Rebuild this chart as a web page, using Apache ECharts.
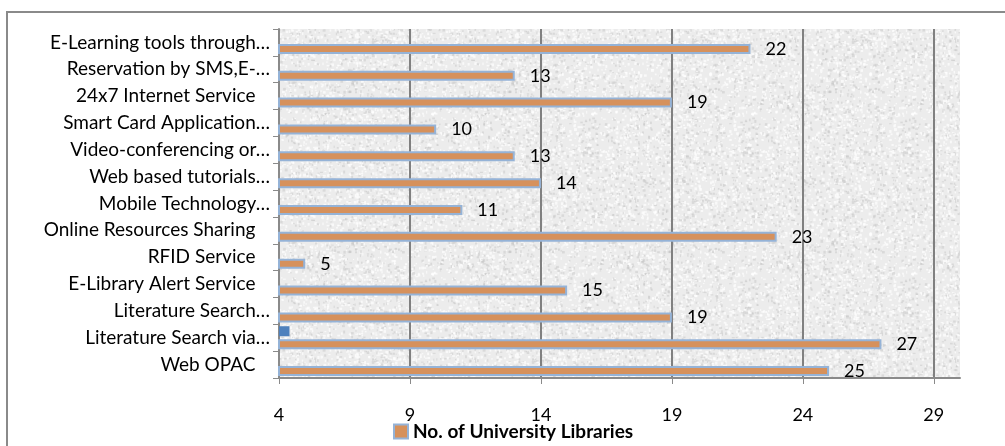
<!DOCTYPE html>
<html>
<head>
<meta charset="utf-8">
<script src="https://cdn.jsdelivr.net/npm/echarts@6/dist/echarts.min.js"></script>
<style>
  html, body { margin: 0; padding: 0; background: #fff; }
  #chart { width: 1005px; height: 446px; }
</style>
</head>
<body>
<div id="chart"></div>
<script>
// categories, top to bottom as in the picture
const categories = [
  'E-Learning tools through…',
  'Reservation by SMS,E-…',
  '24x7 Internet Service',
  'Smart Card Application…',
  'Video-conferencing or…',
  'Web based tutorials…',
  'Mobile Technology…',
  'Online Resources Sharing',
  'RFID Service',
  'E-Library Alert Service',
  'Literature Search…',
  'Literature Search via…',
  'Web OPAC'
]
const libraries = [22, 13, 19, 10, 13, 14, 11, 23, 5, 15, 19, 27, 25]
// small second series, only one visible bar
const secondSeries = ['-', '-', '-', '-', '-', '-', '-', '-', '-', '-', '-', 4.4, '-']
const xTicks = { min: 4, max: 30, interval: 5 }

// grey marble-like texture for the plot background
function makeTexture () {
  const c = document.createElement('canvas')
  c.width = 160
  c.height = 160
  const ctx = c.getContext('2d')
  ctx.fillStyle = '#ececec'
  ctx.fillRect(0, 0, 160, 160)
  let seed = 12345
  const rnd = () => {
    seed = (seed * 1103515245 + 12345) % 2147483648
    return seed / 2147483648
  }
  for (let i = 0; i < 2400; i++) {
    const x = rnd() * 160
    const y = rnd() * 160
    const v = rnd()
    ctx.fillStyle = v < 0.6 ? 'rgba(255,255,255,0.7)' : 'rgba(195,195,195,0.45)'
    ctx.fillRect(x, y, 1 + rnd() * 2, 1 + rnd() * 2)
  }
  return c
}

const chart = echarts.init(document.getElementById('chart'))
chart.setOption({
  animation: false,
  textStyle: { fontFamily: 'Lato' },
  graphic: [
    {
      type: 'rect',
      shape: { x: 7, y: 12, width: 1010, height: 450 },
      style: { fill: 'none', stroke: '#8a8a8a', lineWidth: 2 },
      z: -1
    }
  ],
  grid: {
    left: 279,
    right: 45,
    top: 29,
    bottom: 68,
    show: true,
    backgroundColor: { image: makeTexture(), repeat: 'repeat' },
    borderWidth: 0
  },
  legend: {
    data: ['No. of University Libraries'],
    left: 393,
    top: 422,
    padding: 0,
    icon: 'rect',
    itemWidth: 14,
    itemHeight: 14,
    itemGap: 4,
    textStyle: { fontFamily: 'Lato', fontWeight: 'bold', fontSize: 19, color: '#000' }
  },
  xAxis: {
    type: 'value',
    min: xTicks.min,
    max: xTicks.max,
    interval: xTicks.interval,
    axisLine: { show: true, lineStyle: { color: '#8a8a8a', width: 2 } },
    axisTick: { show: true, length: 6, lineStyle: { color: '#8a8a8a', width: 1 } },
    axisLabel: { showMaxLabel: false, margin: 28, color: '#000', fontSize: 18 },
    splitLine: {
      show: true,
      lineStyle: {
        color: ['#808080', '#808080', '#808080', '#808080', '#808080', '#808080', 'transparent'],
        width: 2
      }
    }
  },
  yAxis: {
    type: 'category',
    inverse: true,
    data: categories,
    axisLine: { show: true, lineStyle: { color: '#8a8a8a', width: 2 } },
    axisTick: { show: true, length: 6, lineStyle: { color: '#8a8a8a', width: 1 } },
    axisLabel: {
      margin: 9,
      color: '#000',
      fontSize: 19,
      formatter: function (v) {
        return v.endsWith('…') ? v : v + '   '
      }
    }
  },
  series: [
    {
      name: 'Series 2',
      type: 'bar',
      data: secondSeries,
      barWidth: 10,
      barGap: '30%',
      itemStyle: { color: '#4f81bd' }
    },
    {
      name: 'No. of University Libraries',
      type: 'bar',
      data: libraries,
      barWidth: 10,
      barGap: '30%',
      itemStyle: { color: '#d6915c', borderColor: '#95b3d7', borderWidth: 2 },
      label: {
        show: true,
        position: 'right',
        distance: 15,
        color: '#000',
        fontSize: 18
      }
    }
  ]
})
</script>
</body>
</html>
